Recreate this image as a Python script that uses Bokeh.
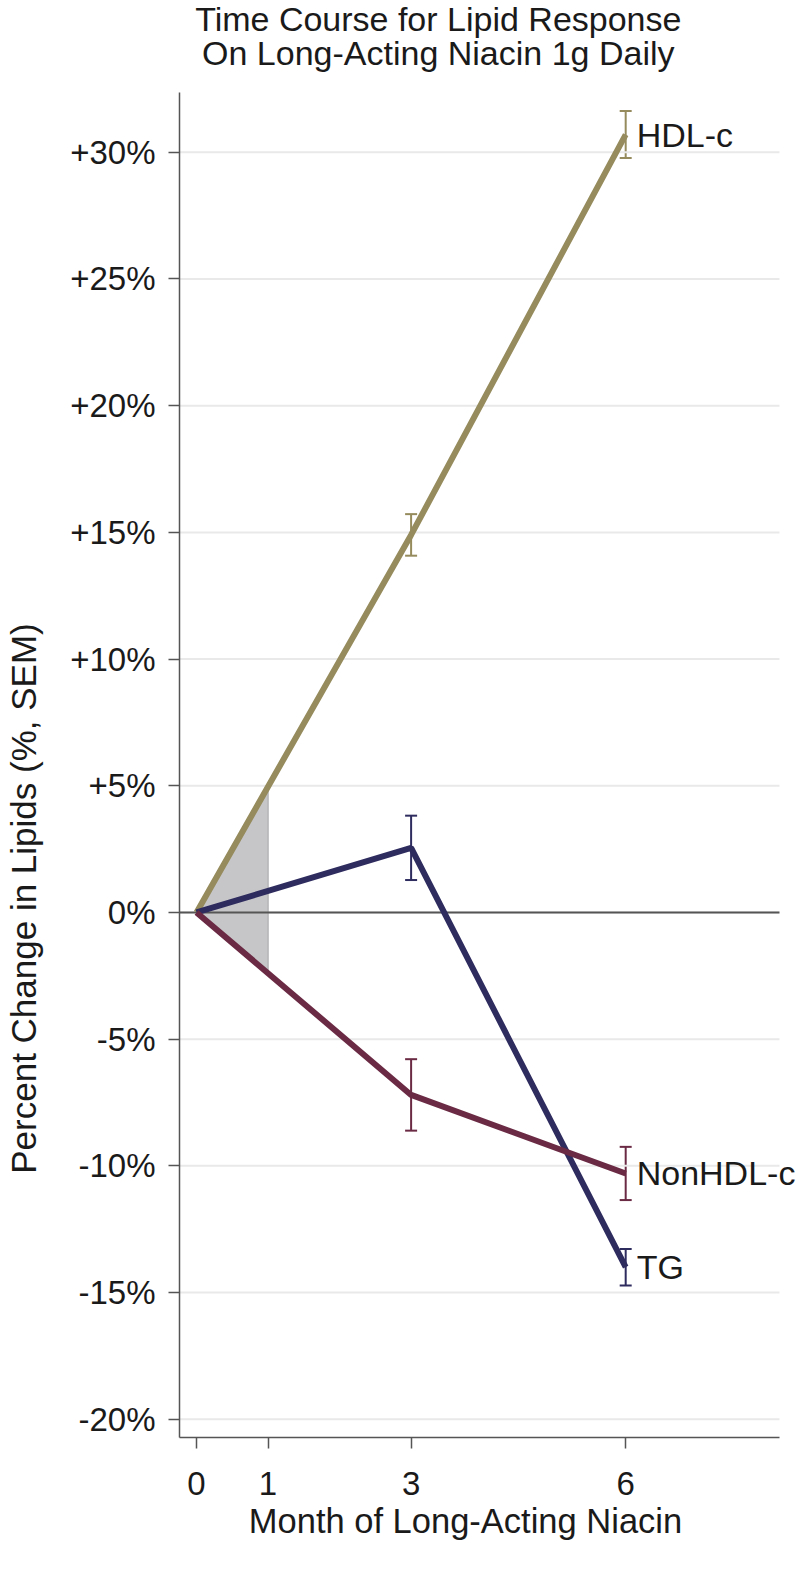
from bokeh.plotting import figure
from bokeh.layouts import row, column
from bokeh.models import ColumnDataSource, Whisker, TeeHead, FixedTicker, Range1d
from bokeh.embed import file_html
from bokeh.resources import INLINE
from bokeh.core.properties import value
import numpy as np

# ---- data ----
months = [0, 3, 6]
hdl = [0.0, 14.9, 30.7]
hdl_sem = [0.0, 0.82, 0.93]
tg = [0.0, 2.55, -14.0]
tg_sem = [0.0, 1.27, 0.72]
nonhdl = [0.0, -7.2, -10.3]
nonhdl_sem = [0.0, 1.41, 1.05]
series_names = ["HDL-c", "TG", "NonHDL-c"]
series_colors = ["#958b5c", "#2e2b5f", "#6a2a43"]
x_ticks = [0, 1, 3, 6]
y_ticks = [-20, -15, -10, -5, 0, 5, 10, 15, 20, 25, 30]
y_tick_labels = ["-20%", "-15%", "-10%", "-5%", "0%", "+5%", "+10%", "+15%", "+20%", "+25%", "+30%"]
shade_months = [0, 1]
title_lines = ["Time Course for Lipid Response", "On Long-Acting Niacin 1g Daily"]
x_title = "Month of Long-Acting Niacin"
y_title = "Percent Change in Lipids (%, SEM)"

FONT = "Liberation Sans"
TXT = "#1a1a1a"
AX = "#555555"

X_LO, X_HI = -0.238, 8.15      # visible axis extent (months)
Y_LO, Y_HI = -20.72, 32.36     # visible axis extent (percent)
X_END = 8.43
Y_END = 35.99

MAIN_W, MAIN_H = 751, 1503
LEFT_W, BOTTOM_H = 48, 66

# ---------------- main plot ----------------
p = figure(width=MAIN_W, height=MAIN_H, output_backend="svg", toolbar_location=None,
           x_range=Range1d(X_LO, X_END), y_range=Range1d(Y_LO, Y_END),
           min_border_left=131, min_border_right=0, min_border_top=0, min_border_bottom=66)
p.outline_line_color = None
p.xgrid.grid_line_color = None
p.ygrid.grid_line_color = None

for ax in (p.xaxis[0], p.yaxis[0]):
    ax.axis_line_color = AX
    ax.axis_line_width = 1.5
    ax.major_tick_line_color = AX
    ax.major_tick_line_width = 1.5
    ax.major_tick_in = 0
    ax.major_tick_out = 11
    ax.minor_tick_line_color = None
    ax.major_label_text_font = FONT
    ax.major_label_text_font_size = "33px"
    ax.major_label_text_color = TXT

p.xaxis.ticker = FixedTicker(ticks=x_ticks)
p.xaxis.major_label_standoff = 23
p.xaxis.bounds = (X_LO, X_HI)

p.yaxis.ticker = FixedTicker(ticks=y_ticks)
p.yaxis.major_label_overrides = {t: l for t, l in zip(y_ticks, y_tick_labels)}
p.yaxis.major_label_standoff = 13
p.yaxis.bounds = (Y_LO, Y_HI)

# horizontal grid lines
n = len(y_ticks)
p.segment(x0=[X_LO] * n, y0=y_ticks, x1=[X_HI] * n, y1=y_ticks,
          line_color="#e9e9e9", line_width=2)

# shaded region between HDL-c and NonHDL-c during the first month
upper = list(np.interp(shade_months, months, hdl))
lower = list(np.interp(shade_months, months, nonhdl))
p.patch(shade_months + shade_months[::-1], upper + lower[::-1],
        fill_color="#c6c6c8", fill_alpha=1.0, line_color="#b5b5b7", line_width=1.5)

# zero reference line
p.segment(x0=[X_LO], y0=[0], x1=[X_HI], y1=[0], line_color=AX, line_width=2)

series = [(hdl, hdl_sem), (tg, tg_sem), (nonhdl, nonhdl_sem)]
for (vals, sem), col in zip(series, series_colors):
    p.line(months, vals, line_color=col, line_width=6)

for (vals, sem), col in zip(series, series_colors):
    xs = [m for m, s in zip(months, sem) if s > 0]
    up = [v + s for v, s in zip(vals, sem) if s > 0]
    lo = [v - s for v, s in zip(vals, sem) if s > 0]
    src = ColumnDataSource(dict(x=xs, upper=up, lower=lo))
    p.add_layout(Whisker(base="x", upper="upper", lower="lower", source=src, dimension="height",
                         line_color=col, line_width=2,
                         upper_head=TeeHead(size=12, line_color=col, line_width=2),
                         lower_head=TeeHead(size=12, line_color=col, line_width=2)))

# series labels at the end of each line
p.text(x=[months[-1]] * 3, y=[hdl[-1], tg[-1], nonhdl[-1]], text=series_names,
       x_offset=11, text_baseline="middle", text_align="left",
       text_font=value(FONT), text_font_size="34px", text_color=TXT)

# two-line title
title_y = [Y_END - 19 / 25.34, Y_END - 53 / 25.34]
p.text(x=[3.38, 3.38], y=title_y, text=title_lines,
       text_align="center", text_baseline="middle",
       text_font=value(FONT), text_font_size="34px", text_color=TXT)

# ---------------- y-axis title panel ----------------
TOTAL_H = MAIN_H + BOTTOM_H
yfig = figure(width=LEFT_W, height=TOTAL_H, output_backend="svg", toolbar_location=None,
              x_range=Range1d(0, LEFT_W), y_range=Range1d(0, TOTAL_H),
              min_border=0, x_axis_type=None, y_axis_type=None)
yfig.outline_line_color = None
yfig.grid.visible = False
yfig.text(x=[23], y=[TOTAL_H - 898], text=[y_title], angle=np.pi / 2,
          text_align="center", text_baseline="middle",
          text_font=value(FONT), text_font_size="35px", text_color=TXT)

# ---------------- x-axis title panel ----------------
xfig = figure(width=MAIN_W, height=BOTTOM_H, output_backend="svg", toolbar_location=None,
              x_range=Range1d(X_LO, X_END), y_range=Range1d(0, BOTTOM_H),
              min_border_left=131, min_border_right=0, min_border_top=0, min_border_bottom=0,
              x_axis_type=None, y_axis_type=None)
xfig.outline_line_color = None
xfig.grid.visible = False
xfig.text(x=[3.76], y=[BOTTOM_H - 17], text=[x_title],
          text_align="center", text_baseline="middle",
          text_font=value(FONT), text_font_size="34.5px", text_color=TXT)

layout = row(yfig, column(p, xfig, spacing=0), spacing=0)
open("out.html", "w").write(file_html(layout, INLINE))
